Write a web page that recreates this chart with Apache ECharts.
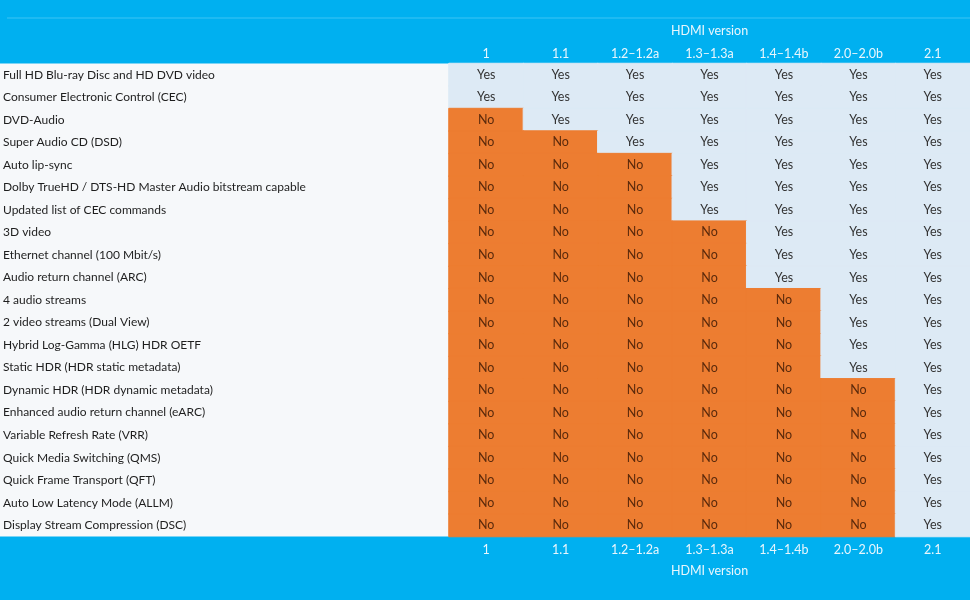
<!DOCTYPE html>
<html>
<head>
<meta charset="utf-8">
<script src="https://cdn.jsdelivr.net/npm/echarts@6/dist/echarts.min.js"></script>
<style>
  html, body { margin: 0; padding: 0; background: #00b0f0; }
  #chart { width: 970px; height: 600px; }
</style>
</head>
<body>
<div id="chart"></div>
<script>
// HDMI feature table
var versions = ['1', '1.1', '1.2–1.2a', '1.3–1.3a', '1.4–1.4b', '2.0–2.0b', '2.1'];

var features = [
  'Full HD Blu-ray Disc and HD DVD video',
  'Consumer Electronic Control (CEC)',
  'DVD-Audio',
  'Super Audio CD (DSD)',
  'Auto lip-sync',
  'Dolby TrueHD / DTS-HD Master Audio bitstream capable',
  'Updated list of CEC commands',
  '3D video',
  'Ethernet channel (100 Mbit/s)',
  'Audio return channel (ARC)',
  '4 audio streams',
  '2 video streams (Dual View)',
  'Hybrid Log-Gamma (HLG) HDR OETF',
  'Static HDR (HDR static metadata)',
  'Dynamic HDR (HDR dynamic metadata)',
  'Enhanced audio return channel (eARC)',
  'Variable Refresh Rate (VRR)',
  'Quick Media Switching (QMS)',
  'Quick Frame Transport (QFT)',
  'Auto Low Latency Mode (ALLM)',
  'Display Stream Compression (DSC)'
];

// 1 = Yes, 0 = No, one row per feature, columns follow versions
var support = [
  [1, 1, 1, 1, 1, 1, 1],
  [1, 1, 1, 1, 1, 1, 1],
  [0, 1, 1, 1, 1, 1, 1],
  [0, 0, 1, 1, 1, 1, 1],
  [0, 0, 0, 1, 1, 1, 1],
  [0, 0, 0, 1, 1, 1, 1],
  [0, 0, 0, 1, 1, 1, 1],
  [0, 0, 0, 0, 1, 1, 1],
  [0, 0, 0, 0, 1, 1, 1],
  [0, 0, 0, 0, 1, 1, 1],
  [0, 0, 0, 0, 0, 1, 1],
  [0, 0, 0, 0, 0, 1, 1],
  [0, 0, 0, 0, 0, 1, 1],
  [0, 0, 0, 0, 0, 1, 1],
  [0, 0, 0, 0, 0, 0, 1],
  [0, 0, 0, 0, 0, 0, 1],
  [0, 0, 0, 0, 0, 0, 1],
  [0, 0, 0, 0, 0, 0, 1],
  [0, 0, 0, 0, 0, 0, 1],
  [0, 0, 0, 0, 0, 0, 1],
  [0, 0, 0, 0, 0, 0, 1]
];

var answerText = ['No', 'Yes'];
var fillColors = ['#ed7d31', '#ddeaf5'];
var textColors = ['#5b2a0c', '#333333'];

var cells = [];
for (var r = 0; r < support.length; r++) {
  for (var c = 0; c < versions.length; c++) {
    var v = support[r][c];
    cells.push({
      value: [c, r, v],
      itemStyle: { color: fillColors[v], borderColor: fillColors[v], borderWidth: 1 },
      label: { color: textColors[v] }
    });
  }
}

var font = 'Lato, "Open Sans", sans-serif';
var headColor = '#e8f6fd';

var myChart = echarts.init(document.getElementById('chart'));

var option = {
  backgroundColor: '#00b0f0',
  animation: false,
  graphic: [
    // pale panel behind the feature names
    { type: 'rect', shape: { x: 0, y: 63.5, width: 449, height: 473 }, style: { fill: '#f6f8fa' }, z: -1 },
    // thin lighter rule near the top
    { type: 'rect', shape: { x: 7, y: 17.5, width: 963, height: 1 }, style: { fill: '#3cc3f3' }, z: -1 }
  ],
  grid: { left: 449, right: 0, top: 63.5, bottom: 63.5 },
  xAxis: [
    {
      type: 'category',
      position: 'top',
      data: versions,
      name: 'HDMI version',
      nameLocation: 'middle',
      nameGap: 26,
      nameTextStyle: { color: headColor, fontSize: 12.5, fontFamily: font },
      axisLine: { show: false },
      axisTick: { show: false },
      splitLine: { show: false },
      axisLabel: { color: headColor, fontSize: 12.5, fontFamily: font, margin: 3 }
    },
    {
      type: 'category',
      position: 'bottom',
      data: versions,
      name: 'HDMI version',
      nameLocation: 'middle',
      nameGap: 28,
      nameTextStyle: { color: headColor, fontSize: 12.5, fontFamily: font },
      axisLine: { show: false },
      axisTick: { show: false },
      splitLine: { show: false },
      axisLabel: { color: headColor, fontSize: 12.5, fontFamily: font, margin: 7 }
    }
  ],
  yAxis: {
    type: 'category',
    inverse: true,
    data: features,
    axisLine: { show: false },
    axisTick: { show: false },
    splitLine: { show: false },
    axisLabel: {
      align: 'left',
      margin: 446,
      color: '#1e1e1e',
      fontSize: 12,
      fontFamily: font,
      padding: [2, 0, 0, 0]
    }
  },
  series: [{
    type: 'heatmap',
    xAxisIndex: 0,
    data: cells,
    label: {
      show: true,
      fontSize: 12.5,
      fontFamily: font,
      padding: [2, 0, 0, 0],
      formatter: function (p) { return answerText[p.value[2]]; }
    }
  }]
};

myChart.setOption(option);
</script>
</body>
</html>
